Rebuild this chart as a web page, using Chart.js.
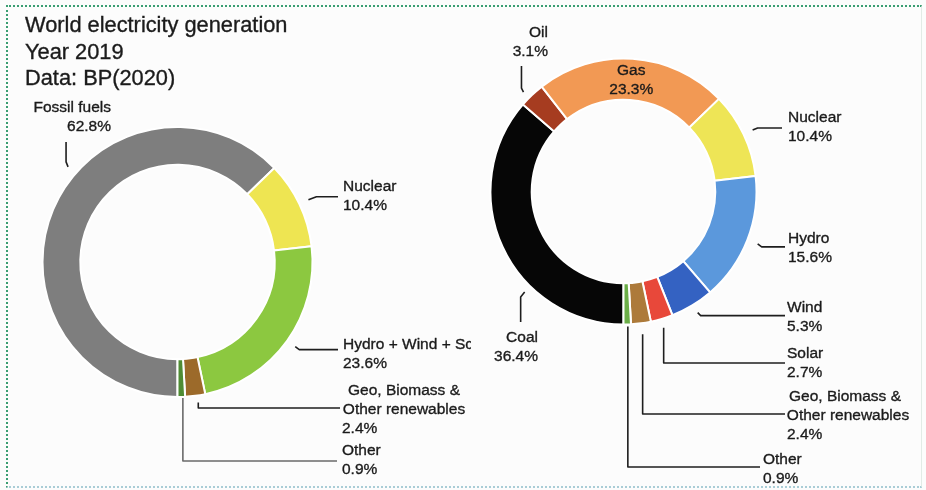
<!DOCTYPE html>
<html><head><meta charset="utf-8">
<script src="https://cdn.jsdelivr.net/npm/chart.js@4"></script>
<style>
html,body{margin:0;padding:0;background:#fcfcfc;}
#wrap{position:relative;width:926px;height:490px;overflow:hidden;background:#fcfcfc;}
#frame{position:absolute;left:6px;top:5px;width:913px;height:479px;border-top:2px dotted #3a9e72;border-left:2px dotted #3a9e72;border-bottom:2px dotted #a9cdd6;border-right:1px solid #e2ebe6;}
#c1{position:absolute;left:0;top:0;}
#c2{position:absolute;left:471px;top:0;}
</style></head><body>
<div id="wrap"><div id="frame"></div>
<canvas id="c1" width="471" height="490"></canvas>
<canvas id="c2" width="455" height="490"></canvas>
</div>
<script>
// ---- data ----
const titleLines = ["World electricity generation", "Year 2019", "Data: BP(2020)"];
const leftCategories = ["Fossil fuels", "Nuclear", "Hydro + Wind + Sc", "Geo, Biomass & Other renewables", "Other"];
const leftCategoryLines = [["Fossil fuels"], ["Nuclear"], ["Hydro + Wind + Sc"], ["Geo, Biomass &", "Other renewables"], ["Other"]];
const leftValues = [62.8, 10.4, 23.6, 2.4, 0.9];
const rightCategories = ["Coal", "Oil", "Gas", "Nuclear", "Hydro", "Wind", "Solar", "Geo, Biomass & Other renewables", "Other"];
const rightCategoryLines = [["Coal"], ["Oil"], ["Gas"], ["Nuclear"], ["Hydro"], ["Wind"], ["Solar"], ["Geo, Biomass &", "Other renewables"], ["Other"]];
const rightValues = [36.4, 3.1, 23.3, 10.4, 15.6, 5.3, 2.7, 2.4, 0.9];

// ---- styles ----
const leftColors = ["#7e7e7e", "#eee552", "#8cc840", "#9c6a2a", "#4f8c34"];
const rightColors = ["#060606", "#a63c20", "#f29954", "#eee556", "#5b98dc", "#3462c2", "#e8483a", "#ad7a3a", "#6bae48"];
const FONT = '15.5px "Liberation Sans", Arial, Helvetica, sans-serif';
const TITLE_FONT = '21.8px "Liberation Sans", Arial, Helvetica, sans-serif';
const LH = 19;

// label layout (page coordinates); anchors come from the arcs
const leftLayout = [
  {f:0.58, gap:10, path:[{dx:-2,dy:-5},{y:142}], x:111, y:108, align:'right'},
  {f:0.5, gap:10, path:[{dx:8,dy:-3},{x:338}], x:343, y:187, align:'left'},
  {f:0.5, gap:10, path:[{dx:4,dy:3},{x:338}], x:343, y:345, align:'left'},
  {f:0.4, gap:7, path:[{y:408},{x:340}], lines:[{x:404,a:'center'},{x:404,a:'center'},{x:342,a:'left'}], y:391},
  {f:0.3, gap:1, color:'#6a6a6a', path:[{y:461},{x:337}], x:342, y:451, align:'left'}
];
const rightLayout = [
  {f:0.34, gap:8, path:[{dx:-4,dy:5},{y:322}], x:538, y:338, align:'right'},
  {f:0.35, gap:8, path:[{dx:-2,dy:-4},{y:66}], x:548, y:33, align:'right'},
  {inside:true, dy:1},
  {f:0.5, gap:10, path:[{dx:5,dy:-2},{x:782}], x:788, y:118, align:'left'},
  {f:0.5, gap:11, path:[{dx:4,dy:3},{x:785}], x:788, y:239, align:'left'},
  {f:0.48, gap:9, path:[{dx:3,dy:3},{x:785}], x:787, y:308, align:'left'},
  {f:0.53, gap:9, path:[{y:363},{x:785}], x:787, y:354, align:'left'},
  {f:0.49, gap:11, path:[{y:414},{x:785}], lines:[{x:845,a:'center'},{x:848,a:'center'},{x:787,a:'left'}], y:397},
  {f:0.43, gap:2, path:[{y:467},{x:760}], x:763, y:460, align:'left'}
];

function heavyText(ctx, t, x, y) {
  ctx.fillText(t, x, y);
  ctx.strokeText(t, x, y);
}

function labelPlugin(layout, catLines, ox, drawTitle) {
  return {
    id: 'labels' + ox,
    afterDraw(chart) {
      const ctx = chart.ctx;
      const meta = chart.getDatasetMeta(0);
      const data = chart.data.datasets[0].data;
      ctx.save();
      ctx.translate(-ox, 0);
      const ink = '#1b1b1b';
      if (drawTitle) {
        ctx.font = TITLE_FONT; ctx.fillStyle = ink; ctx.strokeStyle = ink; ctx.lineWidth = 0.35;
        ctx.textAlign = 'left'; ctx.textBaseline = 'alphabetic';
        titleLines.forEach((t, i) => heavyText(ctx, t, 25, 32 + i * 26.5));
      }
      ctx.font = FONT; ctx.textBaseline = 'middle';
      layout.forEach((s, i) => {
        const arc = meta.data[i];
        const p = arc.getProps(['x', 'y', 'startAngle', 'endAngle', 'outerRadius', 'innerRadius'], true);
        const lines = catLines[i].concat([data[i].toFixed(1) + '%']);
        ctx.fillStyle = ink; ctx.strokeStyle = ink; ctx.lineWidth = 0.35;
        if (s.inside) {
          const c = arc.getCenterPoint(true);
          ctx.textAlign = 'center';
          lines.forEach((t, k) => heavyText(ctx, t, c.x + ox, c.y + (s.dy || 0) + (k - (lines.length - 1) / 2) * LH));
          return;
        }
        lines.forEach((t, k) => {
          const lx = s.lines ? s.lines[k].x : s.x;
          ctx.textAlign = s.lines ? s.lines[k].a : s.align;
          heavyText(ctx, t, lx, s.y + k * LH);
        });
        // leader line
        const a = p.startAngle + s.f * (p.endAngle - p.startAngle);
        const r = p.outerRadius + s.gap;
        let x = p.x + ox + r * Math.cos(a), y = p.y + r * Math.sin(a);
        ctx.beginPath(); ctx.moveTo(x, y);
        s.path.forEach(st => {
          if (st.dx !== undefined) { x += st.dx; y += st.dy; }
          if (st.x !== undefined) x = st.x;
          if (st.y !== undefined) y = st.y;
          ctx.lineTo(x, y);
        });
        ctx.strokeStyle = s.color || '#1e1e1e'; ctx.lineWidth = 1.6; ctx.lineJoin = 'round';
        ctx.stroke();
      });
      ctx.restore();
    }
  };
}

function makeChart(id, cats, vals, colors, cutout, pad, plugin) {
  return new Chart(document.getElementById(id), {
    type: 'doughnut',
    data: { labels: cats, datasets: [{ data: vals, backgroundColor: colors, borderColor: '#ffffff', borderWidth: 2 }] },
    options: {
      responsive: false, animation: false, devicePixelRatio: 1,
      rotation: 180, cutout: cutout,
      layout: { padding: pad },
      plugins: { legend: { display: false }, tooltip: { enabled: false }, title: { display: false } },
      events: []
    },
    plugins: [plugin]
  });
}

// left ring: center (177.5,262) r 135 ; right ring: center (623.5,191.5) r 133 (page coords)
makeChart('c1', leftCategories, leftValues, leftColors, '72%',
  {left: 41.5, right: 471 - 177.5 - 136, top: 126, bottom: 490 - 262 - 136},
  labelPlugin(leftLayout, leftCategoryLines, 0, true));
makeChart('c2', rightCategories, rightValues, rightColors, '69%',
  {left: 623.5 - 471 - 134, right: 455 - (623.5 - 471) - 134, top: 191.5 - 134, bottom: 490 - 191.5 - 134},
  labelPlugin(rightLayout, rightCategoryLines, 471, false));
</script>
</body></html>
